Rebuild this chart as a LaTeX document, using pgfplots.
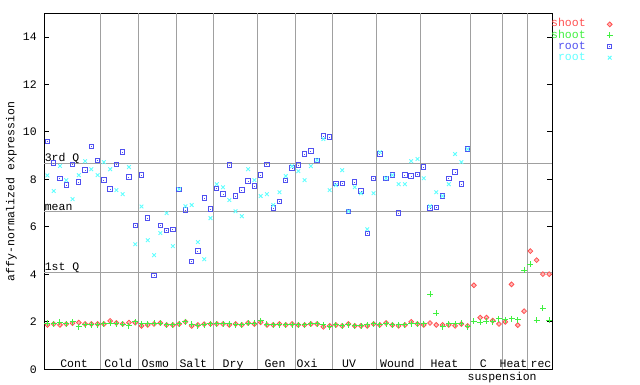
\documentclass[border=0pt]{standalone}
\usepackage{pgfplots}
\pgfplotsset{compat=1.18}
\usepackage{pgfplotstable}
\usepackage{fontspec}
\setmainfont{Liberation Mono}
\definecolor{cred}{RGB}{255,80,80}
\definecolor{cgreen}{RGB}{64,240,64}
\definecolor{cblue}{RGB}{80,80,240}
\definecolor{ccyan}{RGB}{96,255,255}
\definecolor{cgrid}{RGB}{160,160,160}
\newcommand{\gf}{\fontsize{11.5}{12}\selectfont}
\pgfdeclareplotmark{sqdot}{%
  \pgfpathrectangle{\pgfpoint{-\pgfplotmarksize}{-\pgfplotmarksize}}{\pgfpoint{2\pgfplotmarksize}{2\pgfplotmarksize}}%
  \pgfusepathqstroke
  \pgfpathrectangle{\pgfpoint{-0.5pt}{-0.5pt}}{\pgfpoint{1pt}{1pt}}%
  \pgfusepathqfill
}
\pgfdeclareplotmark{sqdiamond}{%
  \pgfpathmoveto{\pgfpoint{0pt}{\pgfplotmarksize}}%
  \pgfpathlineto{\pgfpoint{\pgfplotmarksize}{0pt}}%
  \pgfpathlineto{\pgfpoint{0pt}{-\pgfplotmarksize}}%
  \pgfpathlineto{\pgfpoint{-\pgfplotmarksize}{0pt}}%
  \pgfpathclose
  \pgfusepathqfillstroke
}
\pgfplotstableread{
x shoot1 shoot2
1 1.87 1.94
2 1.91 1.91
3 1.87 1.98
4 1.91 1.91
5 1.94 2.00
6 1.97 1.80
7 1.91 1.87
8 1.91 1.87
9 1.91 1.87
10 1.91 1.91
11 2.04 1.94
12 1.95 1.91
13 1.91 1.90
14 1.97 1.83
15 1.97 2.00
16 1.83 1.91
17 1.87 1.91
18 1.91 1.94
19 1.95 1.94
20 1.87 1.87
21 1.87 1.87
22 1.91 1.91
23 2.00 2.00
24 1.83 1.90
25 1.87 1.83
26 1.90 1.87
27 1.91 1.91
28 1.91 1.91
29 1.91 1.91
30 1.87 1.91
31 1.91 1.87
32 1.87 1.87
33 1.95 1.94
34 1.91 1.94
35 1.98 2.04
36 1.87 1.90
37 1.87 1.87
38 1.91 1.87
39 1.87 1.87
40 1.91 1.87
41 1.87 1.87
42 1.87 1.87
43 1.91 1.91
44 1.91 1.91
45 1.79 1.87
46 1.83 1.79
47 1.87 1.87
48 1.83 1.83
49 1.91 1.87
50 1.83 1.83
51 1.83 1.83
52 1.83 1.87
53 1.91 1.91
54 1.87 1.87
55 1.95 1.91
56 1.87 1.87
57 1.83 1.87
58 1.87 1.87
59 2.00 1.91
60 1.91 1.91
61 1.87 1.91
62 1.95 3.16
63 1.87 2.36
64 1.87 1.79
65 1.87 1.91
66 1.83 1.91
67 1.91 1.94
68 1.83 1.79
69 3.54 2.02
70 2.18 1.98
71 2.18 2.02
72 2.05 2.00
73 1.91 2.12
74 2.00 2.08
75 3.58 2.12
76 1.86 2.08
77 2.45 4.17
78 4.98 4.43
79 4.60 2.07
80 4.01 2.57
81 4.01 2.07
}\shoottab
\pgfplotstableread{
x root1 root2
1 9.61 8.17
2 8.69 7.51
3 8.04 8.57
4 7.76 7.97
5 8.64 7.17
6 7.89 8.18
7 8.39 8.77
8 9.40 8.43
9 8.79 8.18
10 7.97 8.73
11 7.59 8.43
12 8.64 7.55
13 9.15 7.38
14 8.10 8.52
15 6.07 5.27
16 8.18 6.86
17 6.37 5.44
18 3.96 4.81
19 6.07 5.74
20 5.86 6.58
21 5.90 5.19
22 7.58 7.59
23 6.71 6.87
24 4.55 6.92
25 4.98 5.36
26 7.21 4.64
27 6.75 6.37
28 7.63 7.80
29 7.38 7.67
30 8.60 7.13
31 7.30 6.66
32 7.55 6.45
33 7.93 8.43
34 7.72 7.97
35 8.18 7.30
36 8.64 7.38
37 6.79 6.92
38 7.08 7.46
39 7.96 8.14
40 8.48 8.56
41 8.60 8.35
42 9.07 7.97
43 9.19 8.56
44 8.81 8.81
45 9.83 9.70
46 9.78 7.55
47 7.84 7.76
48 7.84 8.39
49 6.66 6.66
50 7.89 7.67
51 7.51 7.42
52 5.72 5.90
53 8.05 7.42
54 9.07 9.15
55 8.05 8.05
56 8.18 8.18
57 6.58 7.80
58 8.18 7.80
59 8.14 8.77
60 8.22 8.86
61 8.52 8.05
62 6.79 6.87
63 6.83 7.46
64 7.30 7.30
65 8.05 7.80
66 8.31 9.07
67 7.80 8.73
68 9.28 9.28
}\roottab
\begin{document}
\begin{tikzpicture}[x=1pt,y=1pt]
\useasboundingbox (0,0) rectangle (640,384);
\begin{axis}[
  at={(44.3pt,14.7pt)}, anchor=south west,
  scale only axis, width=508pt, height=356pt,
  xmin=0.5, xmax=81.5, ymin=0, ymax=15,
  xtick=\empty,
  ytick={0,2,4,6,8,10,12,14},
  tick align=inside, major tick length=5pt,
  tick style={black, line width=1pt},
  axis line style={black, line width=1pt},
  /pgf/number format/assume math mode=true,
  ticklabel style={font=\gf},
  yticklabel style={xshift=-4pt},
  extra x ticks={9.5,15.5,21.5,27.5,34.5,40.5,46.5,53.5,60.5,68.5,73.5,77.5},
  extra x tick labels={},
  extra x tick style={grid=major, major tick length=0pt, major grid style={cgrid, line width=1pt}},
  clip=false,
  ylabel={affy-normalized expression},
  every axis y label/.style={at={(axis description cs:-0.065,0.5)}, rotate=90, anchor=center, font=\gf},
  legend cell align=right,
  legend plot pos=right,
  legend image code/.code={\path[draw=none, fill=none] (0pt,-2pt) rectangle (27pt,2pt); \draw[#1] plot coordinates {(24pt,0pt)};},
  legend style={at={(axis description cs:0.9974,0.985)}, anchor=north west, draw=none, fill=none, font=\gf, inner sep=0pt, row sep=0pt, column sep=0pt,
    nodes={inner sep=0pt, text height=8.1pt, text depth=3pt}},
]
\draw[cgrid, line width=1pt] (axis cs:0.5,8.69) -- (axis cs:81.5,8.69);
\draw[cgrid, line width=1pt] (axis cs:0.5,6.63) -- (axis cs:81.5,6.63);
\draw[cgrid, line width=1pt] (axis cs:0.5,4.09) -- (axis cs:81.5,4.09);
\addplot[only marks, mark=sqdiamond, mark size=2.4pt, mark options={draw=cred, fill=cred!40!white, line width=0.8pt}] table[x=x, y=shoot1] {\shoottab};
\addlegendentry{\textcolor{cred}{shoot}}
\addplot[only marks, mark=+, mark size=3pt, mark options={draw=cgreen, line width=1pt}] table[x=x, y=shoot2] {\shoottab};
\addlegendentry{\textcolor{cgreen}{shoot}}
\addplot[only marks, mark=sqdot, mark size=2.2pt, mark options={draw=cblue, fill=cblue, line width=1pt}] table[x=x, y=root1] {\roottab};
\addlegendentry{\textcolor{cblue}{root}}
\addplot[only marks, mark=x, mark size=2.6pt, mark options={draw=ccyan, line width=0.9pt}] table[x=x, y=root2] {\roottab};
\addlegendentry{\textcolor{ccyan}{root}}
\node[anchor=base west, font=\gf, inner sep=0pt] at (axis cs:0.55,8.76) {3rd Q};
\node[anchor=base west, font=\gf, inner sep=0pt] at (axis cs:0.55,6.70) {mean};
\node[anchor=base west, font=\gf, inner sep=0pt] at (axis cs:0.55,4.16) {1st Q};
\node[anchor=base, font=\gf, inner sep=0pt] at (axis cs:5.25,0.08) {Cont};
\node[anchor=base, font=\gf, inner sep=0pt] at (axis cs:12.28,0.08) {Cold};
\node[anchor=base, font=\gf, inner sep=0pt] at (axis cs:18.2,0.08) {Osmo};
\node[anchor=base, font=\gf, inner sep=0pt] at (axis cs:24.26,0.08) {Salt};
\node[anchor=base, font=\gf, inner sep=0pt] at (axis cs:30.6,0.08) {Dry};
\node[anchor=base, font=\gf, inner sep=0pt] at (axis cs:37.3,0.08) {Gen};
\node[anchor=base, font=\gf, inner sep=0pt] at (axis cs:42.4,0.08) {Oxi};
\node[anchor=base, font=\gf, inner sep=0pt] at (axis cs:49.1,0.08) {UV};
\node[anchor=base, font=\gf, inner sep=0pt] at (axis cs:56.8,0.08) {Wound};
\node[anchor=base, font=\gf, inner sep=0pt] at (axis cs:64.3,0.08) {Heat};
\node[anchor=base, font=\gf, inner sep=0pt] at (axis cs:70.5,0.08) {C};
\node[anchor=base, font=\gf, inner sep=0pt] at (axis cs:75.3,0.08) {Heat};
\node[anchor=base, font=\gf, inner sep=0pt] at (axis cs:79.7,0.08) {rec};
\node[anchor=base, font=\gf, inner sep=0pt] at (axis cs:73.5,-0.47) {suspension};
\end{axis}
\end{tikzpicture}
\end{document}
